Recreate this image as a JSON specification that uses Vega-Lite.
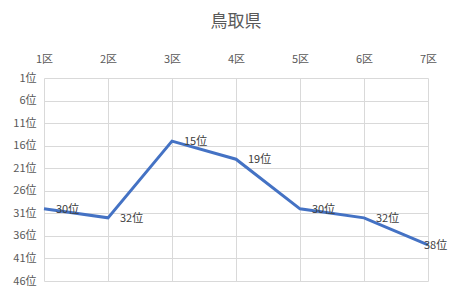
{
  "$schema": "https://vega.github.io/schema/vega-lite/v6.json",
  "width": 384,
  "height": 203,
  "autosize": {"type": "none"},
  "padding": {"left": 44, "top": 78, "right": 24, "bottom": 21},
  "background": "white",
  "title": {"text": "鳥取県", "font": "Noto Sans CJK JP", "fontSize": 17, "fontWeight": "normal", "color": "#595959", "offset": 22},
  "config": {"view": {"stroke": null}, "font": "Noto Sans CJK JP"},
  "data": {"values": [
    {"district": "1区", "rank": 30},
    {"district": "2区", "rank": 32},
    {"district": "3区", "rank": 15},
    {"district": "4区", "rank": 19},
    {"district": "5区", "rank": 30},
    {"district": "6区", "rank": 32},
    {"district": "7区", "rank": 38}
  ]},
  "transform": [{"calculate": "datum.rank + '位'", "as": "lbl"}],
  "encoding": {
    "x": {"field": "district", "type": "ordinal", "sort": null,
      "scale": {"type": "point", "padding": 0},
      "axis": {"orient": "top", "title": null, "labelAngle": 0, "domain": false, "ticks": false, "labelPadding": 14, "labelFontSize": 11, "labelColor": "#595959", "grid": true, "gridColor": "#d9d9d9", "labelFont": "Noto Sans CJK JP"}},
    "y": {"field": "rank", "type": "quantitative",
      "scale": {"domain": [1, 46], "reverse": true, "nice": false, "zero": false},
      "axis": {"title": null, "values": [1, 6, 11, 16, 21, 26, 31, 36, 41, 46], "labelExpr": "datum.value + '位'", "domain": false, "ticks": false, "labelPadding": 8, "labelFontSize": 11, "labelColor": "#595959", "grid": true, "gridColor": "#d9d9d9", "labelFont": "Noto Sans CJK JP"}}
  },
  "layer": [
    {"mark": {"type": "line", "color": "#4472C4", "strokeWidth": 3}},
    {"transform": [{"filter": "datum.district != '7区'"}],
     "mark": {"type": "text", "align": "left", "baseline": "middle", "dx": 12, "dy": 1, "fontSize": 11, "color": "#404040", "font": "Noto Sans CJK JP"},
     "encoding": {"text": {"field": "lbl", "type": "nominal"}}},
    {"transform": [{"filter": "datum.district == '7区'"}],
     "mark": {"type": "text", "align": "left", "baseline": "middle", "dx": -4, "dy": 1, "fontSize": 11, "color": "#404040", "font": "Noto Sans CJK JP"},
     "encoding": {"text": {"field": "lbl", "type": "nominal"}}}
  ]
}
